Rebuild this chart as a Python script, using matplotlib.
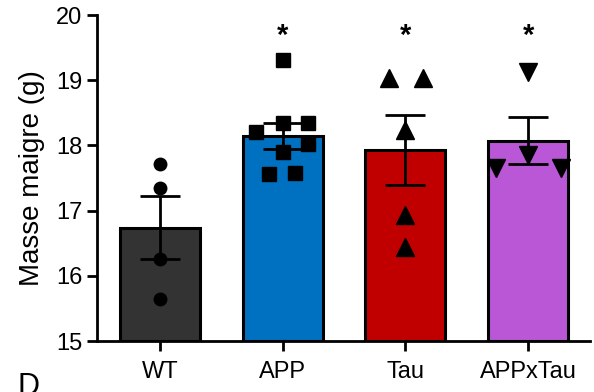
import matplotlib
matplotlib.use("Agg")
import matplotlib.pyplot as plt
import numpy as np

plt.rcParams['font.family'] = ['Liberation Sans', 'DejaVu Sans']

groups = ["WT", "APP", "Tau", "APPxTau"]
colors = ["#333333", "#0070C0", "#C00000", "#B957D6"]
means = [16.74, 18.15, 17.93, 18.07]
sem = [0.48, 0.20, 0.54, 0.36]

wt_vals = [17.71, 17.35, 16.26, 15.64]
wt_dx = [0, 0, 0, 0]
app_vals = [19.31, 18.21, 18.35, 18.35, 17.90, 18.02, 17.56, 17.58]
app_dx = [0, -0.22, 0, 0.21, 0, 0.21, -0.11, 0.10]
tau_vals = [19.03, 19.03, 18.24, 16.93, 16.44]
tau_dx = [-0.13, 0.14, 0, 0, 0]
appxtau_vals = [19.13, 17.85, 17.65, 17.65]
appxtau_dx = [0, 0, -0.26, 0.27]

points = [wt_vals, app_vals, tau_vals, appxtau_vals]
offsets = [wt_dx, app_dx, tau_dx, appxtau_dx]
markers = ["o", "s", "^", "v"]
msizes = [9, 10, 12.5, 12.5]
stars = ["", "*", "*", "*"]

fig = plt.figure(figsize=(5.94, 3.92), dpi=100)
ax = fig.add_axes([0.1633, 0.130, 0.9933 - 0.1633, 0.9617 - 0.130])

x = np.arange(len(groups))
ax.bar(x, [m - 15 for m in means], bottom=15, width=0.65, color=colors,
       edgecolor="black", linewidth=2.2, zorder=1)

for i in range(len(groups)):
    xs = [x[i] + d for d in offsets[i]]
    ax.plot(xs, points[i], linestyle="none", marker=markers[i], ms=msizes[i],
            color="black", zorder=3)
    ax.errorbar(x[i], means[i], yerr=sem[i], fmt="none", ecolor="black",
                elinewidth=2, capsize=14.5, capthick=2, zorder=4)
    if stars[i]:
        ax.text(x[i], 19.68, stars[i], ha="center", va="center", fontsize=21,
                fontweight="bold")

ax.set_ylim(15, 20)
ax.set_xlim(-0.513, 3.505)
ax.set_yticks([15, 16, 17, 18, 19, 20])
ax.set_xticks(x)
ax.set_xticklabels(groups)
ax.set_ylabel("Masse maigre (g)", fontsize=20, labelpad=8)
ax.tick_params(axis="both", labelsize=17, width=2, length=7.5, color="black")
ax.tick_params(axis="x", pad=7)
ax.tick_params(axis="y", pad=3)
ax.spines["top"].set_visible(False)
ax.spines["right"].set_visible(False)
ax.spines["left"].set_linewidth(2)
ax.spines["bottom"].set_linewidth(2)

fig.text(0.03, 0.052, "D", fontsize=22, ha="left", va="top")

fig.savefig("out.png", dpi=100)
